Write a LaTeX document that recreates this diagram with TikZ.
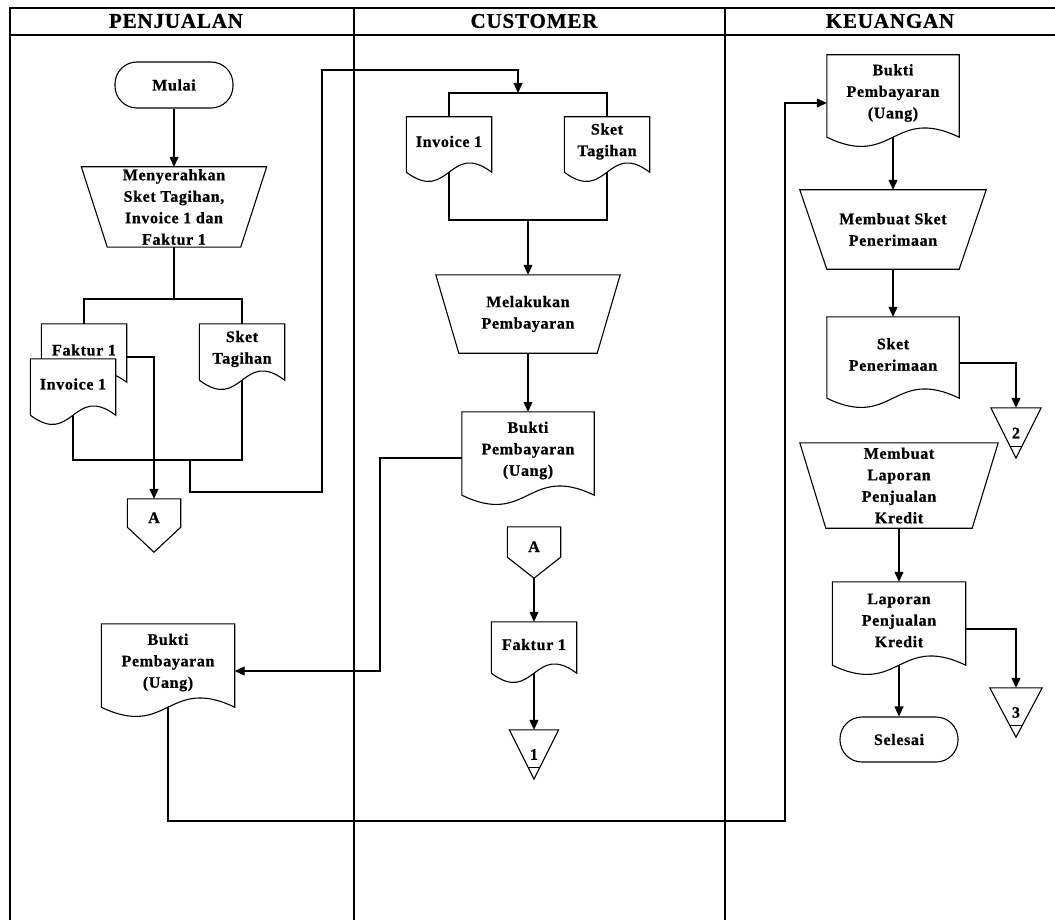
\documentclass[tikz,border=0pt]{standalone}
\usepackage{fontspec}
\setmainfont{Liberation Serif}[LetterSpace=4, BoldFeatures={FakeBold=0.8}]
\usetikzlibrary{calc,arrows.meta}
\tikzset{
  ln/.style={line width=1.1pt, draw=black},
  arr/.style={ln, -{Triangle[length=10pt,width=9pt]}},
  txt/.style={font=\bfseries\fontsize{16}{21.5}\selectfont, align=center, inner sep=0pt, text=black},
  hdr/.style={font=\bfseries\fontsize{21}{24}\selectfont, inner sep=0pt},
  term/.style={txt, ln, rounded corners=22pt},
  offp/.style={txt, text height=20pt}
}
\newcommand\mydoc[1]{\draw[ln,fill=white] (#1.north west) -- (#1.north east) -- ($(#1.south east)+(0,6)$) .. controls ($(#1.south west)!0.5!(#1.south east)+(0,-26)$) and ($(#1.south west)!0.5!(#1.south east)+(0,38)$) .. ($(#1.south west)+(0,6)$) -- cycle;}
\newcommand\mytrap[2]{\draw[ln,fill=white] (#1.north west) -- (#1.north east) -- ($(#1.south east)+(-#2,0)$) -- ($(#1.south west)+(#2,0)$) -- cycle;}
\newcommand\myoff[2]{\draw[ln,fill=white] (#1.north west) -- (#1.north east) -- (#1.south east) -- ($(#1.south)+(0,#2)$) -- (#1.south west) -- cycle;}
\newcommand\mytri[1]{\draw[ln,fill=white] (#1.north west) -- (#1.north east) -- (#1.south) -- cycle; \draw[ln] ($(#1.north west)!0.76!(#1.south)$) -- ($(#1.north east)!0.76!(#1.south)$);}
\begin{document}
\begin{tikzpicture}[x=1pt,y=-1pt]
\clip (0,0) rectangle (1055,920);
\fill[white] (0,0) rectangle (1055,920);

% frame
\draw[line width=1.3pt] (10,925) -- (10,8) -- (1060,8);
\draw[line width=1.3pt] (10,35) -- (1060,35);
\draw[line width=1.3pt] (354,8) -- (354,925);
\draw[line width=1.3pt] (725,8) -- (725,925);

% helper coordinates
\coordinate (b1) at (177,299);
\coordinate (b2) at (190,460);
\coordinate (r1) at (322,492);
\coordinate (r2) at (322,70);
\coordinate (b3) at (518,93);
\coordinate (b4) at (528,220);
\coordinate (t1) at (380,458);
\coordinate (b5) at (785,821);

% headers
\node[hdr] (h1) at (176,21) {PENJUALAN};
\node[hdr] (h2) at (534,21) {CUSTOMER};
\node[hdr] (h3) at (890,21) {KEUANGAN};

% ---------- PENJUALAN ----------
\node[term, fill=white, minimum width=118pt, minimum height=46pt] (mulai) at (174,85) {Mulai};
\path (174,207) coordinate (menyerpos);
\node[txt, minimum width=185pt, minimum height=80pt] (menyer) at (menyerpos) {};
\mytrap{menyer}{26}
\node[txt] at (menyer.center) {Menyerahkan\\Sket Tagihan,\\Invoice 1 dan\\Faktur 1};

\node[txt, minimum width=85pt, minimum height=52pt] (fak1) at (84,350) {};
\mydoc{fak1}
\node[txt] at (fak1.center) {Faktur 1};
\node[txt, minimum width=85pt, minimum height=50pt] (inv1) at (73,384) {};
\mydoc{inv1}
\node[txt] at (inv1.center) {Invoice 1};
\node[txt, minimum width=85pt, minimum height=50pt] (sket1) at (242,349) {};
\mydoc{sket1}
\node[txt] at (sket1.center) {Sket\\Tagihan};
\node[offp, minimum width=53pt, minimum height=28pt] (a1) at (154,513) {};
\myoff{a1}{25}
\node[offp, minimum width=53pt, minimum height=28pt] at (a1.center) {A};
\node[txt, minimum width=133pt, minimum height=77pt] (pbukti) at (168,662.5) {};
\mydoc{pbukti}
\node[txt] at (pbukti.center) {Bukti\\Pembayaran\\(Uang)};

% ---------- CUSTOMER ----------
\node[txt, minimum width=85pt, minimum height=49pt] (cinv) at (449,141.5) {};
\mydoc{cinv}
\node[txt] at (cinv.center) {Invoice 1};
\node[txt, minimum width=85pt, minimum height=49pt] (csket) at (607,141.5) {};
\mydoc{csket}
\node[txt] at (csket.center) {Sket\\Tagihan};
\node[txt, minimum width=184pt, minimum height=78pt] (melak) at (528,314) {};
\mytrap{melak}{23}
\node[txt] at (melak.center) {Melakukan\\Pembayaran};
\node[txt, minimum width=132pt, minimum height=77pt] (cbukti) at (528,450.5) {};
\mydoc{cbukti}
\node[txt] at (cbukti.center) {Bukti\\Pembayaran\\(Uang)};
\node[offp, minimum width=53pt, minimum height=30pt] (ca) at (534,542) {};
\myoff{ca}{21}
\node[offp, minimum width=53pt, minimum height=30pt] at (ca.center) {A};
\node[txt, minimum width=85pt, minimum height=45pt] (cfak) at (534,644.5) {};
\mydoc{cfak}
\node[txt] at (cfak.center) {Faktur 1};
\node[txt, minimum width=49pt, minimum height=49pt] (tri1) at (534,754.5) {};
\mytri{tri1}
\node[txt] at (tri1.center) {1};

% ---------- KEUANGAN ----------
\node[txt, minimum width=132pt, minimum height=76pt] (kbukti) at (893,93) {};
\mydoc{kbukti}
\node[txt] at (kbukti.center) {Bukti\\Pembayaran\\(Uang)};
\node[txt, minimum width=186pt, minimum height=79pt] (msket) at (893,229.5) {};
\mytrap{msket}{27}
\node[txt] at (msket.center) {Membuat Sket\\Penerimaan};
\node[txt, minimum width=132pt, minimum height=75pt] (ksket) at (893,354.5) {};
\mydoc{ksket}
\node[txt] at (ksket.center) {Sket\\Penerimaan};
\node[txt, minimum width=50pt, minimum height=50pt] (tri2) at (1016,433) {};
\mytri{tri2}
\node[txt] at (tri2.center) {2};
\node[txt, minimum width=198pt, minimum height=85pt] (mlap) at (899,485.5) {};
\mytrap{mlap}{26}
\node[txt] at (mlap.center) {Membuat\\Laporan\\Penjualan\\Kredit};
\node[txt, minimum width=133pt, minimum height=77pt] (klap) at (899,620.5) {};
\mydoc{klap}
\node[txt] at (klap.center) {Laporan\\Penjualan\\Kredit};
\node[txt, minimum width=52pt, minimum height=49pt] (tri3) at (1016,712.5) {};
\mytri{tri3}
\node[txt] at (tri3.center) {3};
\node[term, minimum width=118pt, minimum height=45pt] (selesai) at (899,739.5) {Selesai};

% connectors
\draw[arr] (mulai.south) -- (menyer.north);
\draw[ln] (menyer.south) -- (menyer.south |- b1);
\draw[ln] (fak1.north) -- (fak1.north |- b1) -- (sket1.north |- b1) -- (sket1.north);
\draw[ln] ($(inv1.south)+(0,6)$) -- (inv1.center |- b2) -- (sket1.center |- b2) -- ($(sket1.south)+(0,6)$);
\draw[arr] ($(fak1.east)+(0,7)$) -| (a1.north);
\draw[arr] (b2) |- (r1) -- (r2) -| (b3);

\draw[ln] (cinv.north) -- (cinv.north |- b3) -- (csket.north |- b3) -- (csket.north);
\draw[ln] ($(cinv.south)+(0,6)$) -- (cinv.center |- b4) -- (csket.center |- b4) -- ($(csket.south)+(0,6)$);
\draw[arr] (b4) -- (melak.north);
\draw[arr] (melak.south) -- (cbukti.north);
\draw[arr] ($(cbukti.west)+(0,7.5)$) -- (t1) |- ($(pbukti.east)+(0,8.5)$);
\draw[arr] ($(ca.south)+(0,21)$) -- (cfak.north);
\draw[arr] ($(cfak.south)+(0,6)$) -- (tri1.north);

\draw[arr] ($(pbukti.south)+(0,6)$) |- (b5) |- ($(kbukti.west)+(0,10)$);
\draw[arr] ($(kbukti.south)+(0,6)$) -- (msket.north);
\draw[arr] (msket.south) -- (ksket.north);
\draw[arr] ($(ksket.east)+(0,8.5)$) -| (tri2.north);
\draw[arr] (mlap.south) -- (klap.north);
\draw[arr] ($(klap.east)+(0,8.5)$) -| (tri3.north);
\draw[arr] ($(klap.south)+(0,6)$) -- (selesai.north);
\end{tikzpicture}
\end{document}
